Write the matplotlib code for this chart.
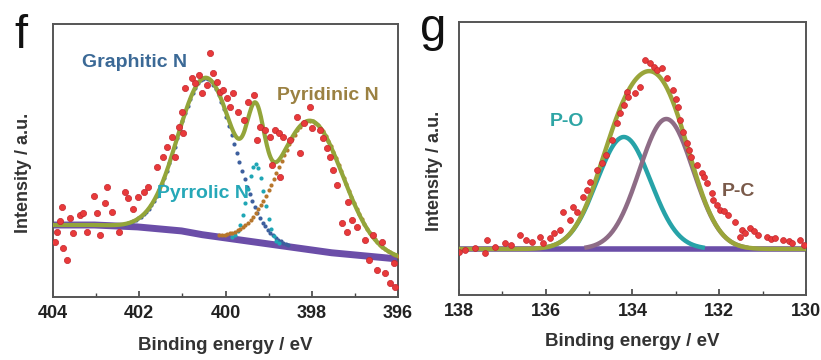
import numpy as np
import matplotlib.pyplot as plt
from matplotlib.ticker import MultipleLocator

plt.rcParams['font.family'] = ['Liberation Sans', 'DejaVu Sans']


# ---- panel f : N 1s ----
f_base_E = [396.0, 396.5, 397.0, 397.5, 398.0, 398.5, 399.0, 399.5, 400.0,
            400.5, 401.0, 401.5, 402.0, 402.5, 403.0, 404.0]
f_base_I = [38, 40, 42, 44, 47, 50, 53, 56, 59, 62, 66, 68, 70, 71, 72, 72]

f_names = ['Graphitic N', 'Pyrrolic N', 'Pyridinic N']
f_center = [400.45, 399.30, 398.02]
f_height = [157, 78, 129]
f_sigma = [0.65, 0.20, 0.74]
f_colors = ['#3d5f9e', '#1fa6b5', '#b7762c']

f_dots_E = [403.95, 403.91, 403.84, 403.80, 403.76, 403.68, 403.61, 403.53, 403.37,
            403.30, 403.22, 403.06, 402.99, 402.91, 402.79, 402.75, 402.64, 402.48,
            402.33, 402.26, 402.15, 402.02, 401.90, 401.79, 401.59, 401.45, 401.36,
            401.25, 401.17, 401.09, 401.01, 400.98, 400.94, 400.78, 400.70, 400.62,
            400.55, 400.43, 400.36, 400.28, 400.20, 400.12, 400.05, 399.97, 399.89,
            399.82, 399.70, 399.58, 399.47, 399.35, 399.27, 399.20, 399.08, 398.97,
            398.93, 398.85, 398.77, 398.74, 398.66, 398.50, 398.35, 398.27, 398.19,
            398.04, 398.00, 397.81, 397.73, 397.65, 397.57, 397.50, 397.42, 397.30,
            397.19, 397.15, 397.07, 396.95, 396.76, 396.68, 396.57, 396.49, 396.37,
            396.30, 396.18, 396.10, 396.06]
f_dots_I = [55, 65, 76, 90, 49, 37, 79, 64, 82,
            84, 65, 101, 84, 62, 94, 110, 85, 65,
            105, 99, 88, 100, 105, 110, 130, 140, 150,
            160, 140, 170, 185, 164, 209, 219, 214, 222,
            204, 212, 244, 224, 215, 205, 207, 199, 190,
            204, 185, 177, 195, 202, 157, 170, 167, 160,
            132, 167, 164, 120, 160, 157, 180, 144, 174,
            190, 169, 167, 159, 149, 140, 127, 112, 74,
            65, 95, 77, 70, 57, 37, 62, 27, 55,
            24, 14, 34, 10]

# ---- panel g : P 2p ----
g_base_E = [130.0, 132.0, 134.0, 136.0, 138.0]
g_base_I = [46, 46, 46, 46, 46]

g_names = ['P-O', 'P-C']
g_center = [134.20, 133.22]
g_height = [112, 130]
g_sigma = [0.62, 0.62]
g_colors = ['#27a3a8', '#8e6c86']

g_dots_E = [138.00, 137.86, 137.63, 137.40, 137.36, 137.17, 136.94, 136.80, 136.59,
            136.45, 136.32, 136.13, 136.06, 135.90, 135.80, 135.67, 135.60, 135.44,
            135.37, 135.29, 135.13, 135.05, 134.98, 134.83, 134.70, 134.60, 134.48,
            134.36, 134.29, 134.20, 134.13, 134.10, 133.94, 133.83, 133.71, 133.60,
            133.50, 133.44, 133.33, 133.21, 133.06, 133.00, 132.94, 132.90, 132.83,
            132.75, 132.70, 132.64, 132.52, 132.40, 132.35, 132.29, 132.17, 132.14,
            132.05, 131.98, 131.90, 131.79, 131.64, 131.52, 131.48, 131.40, 131.29,
            131.20, 131.10, 130.91, 130.80, 130.71, 130.52, 130.40, 130.33, 130.14,
            130.05]
g_dots_I = [43, 45, 47, 42, 55, 48, 52, 50, 60,
            55, 53, 58, 52, 57, 62, 65, 83, 75,
            88, 83, 98, 105, 113, 125, 132, 140, 155,
            172, 182, 190, 203, 198, 202, 208, 235, 232,
            228, 225, 227, 217, 205, 196, 188, 175, 163,
            152, 145, 138, 130, 122, 118, 112, 102, 95,
            90, 85, 84, 80, 73, 58, 65, 62, 67,
            64, 60, 58, 56, 57, 55, 54, 52, 55,
            50]


def gauss(e, c, a, s):
    return a * np.exp(-0.5 * ((e - c) / s) ** 2)


fig = plt.figure(figsize=(8.21, 3.6), dpi=100)
ax_f = fig.add_axes([0.0646, 0.175, 0.4202, 0.7583])
ax_g = fig.add_axes([0.5591, 0.1806, 0.4226, 0.7583])

# panel f
grid = np.arange(396.0, 404.0001, 0.02)
base = np.interp(grid, f_base_E, f_base_I)
total = base.copy()
ax_f.plot(grid, base, color='#6b4ea8', lw=5, zorder=2, solid_capstyle='butt')
for c, a, s, col in zip(f_center, f_height, f_sigma, f_colors):
    comp = gauss(grid, c, a, s)
    total += comp
    m = comp > 2
    ax_f.plot(grid[m][::3], (base + comp)[m][::3], ls='none', marker='o',
              ms=3.0, mew=0, color=col, zorder=3)
ax_f.plot(grid, total, color='#93a53a', lw=3, zorder=4)
ax_f.scatter(f_dots_E, f_dots_I, s=20, color='#e83a3a', edgecolors='#c4262f',
             linewidths=0.5, zorder=5)

ax_f.text(403.33, 235, 'Graphitic N', color='#3b6996', fontsize=14,
          fontweight='bold', va='center', zorder=6)
ax_f.text(401.59, 104, 'Pyrrolic N', color='#26a8b8', fontsize=14,
          fontweight='bold', va='center', zorder=4.5)
ax_f.text(398.80, 202, 'Pyridinic N', color='#9b8142', fontsize=14,
          fontweight='bold', va='center', zorder=6)

# panel g
grid = np.arange(130.0, 138.0001, 0.02)
base = np.interp(grid, g_base_E, g_base_I)
total = base.copy()
ax_g.plot(grid, base, color='#6b4ea8', lw=4, zorder=2)
for c, a, s, col in zip(g_center, g_height, g_sigma, g_colors):
    comp = gauss(grid, c, a, s)
    total += comp
    m = comp > 1.5
    ax_g.plot(grid[m], (base + comp)[m], color=col, lw=3.2, zorder=3)
ax_g.plot(grid, total, color='#9aa53a', lw=3.2, zorder=4)
ax_g.scatter(g_dots_E, g_dots_I, s=18, color='#e83a3a', edgecolors='#c4262f',
             linewidths=0.5, zorder=5)

ax_g.text(135.90, 173, 'P-O', color='#2ea5a5', fontsize=14,
          fontweight='bold', va='center')
ax_g.text(131.94, 103, 'P-C', color='#7a5a4a', fontsize=14,
          fontweight='bold', va='center')

# axes styling
for ax, lim, lab_x, lab_y in [(ax_f, (404, 396), -0.147, -0.062),
                              (ax_g, (138, 130), -0.139, -0.046)]:
    ax.set_xlim(*lim)
    ax.set_ylim(0, 273)
    ax.set_yticks([])
    ax.xaxis.set_major_locator(MultipleLocator(2))
    ax.xaxis.set_minor_locator(MultipleLocator(1))
    ax.tick_params(axis='x', which='major', direction='in', length=4, width=1.2,
                   pad=6, labelsize=13, colors='#444', labelcolor='#222')
    ax.tick_params(axis='x', which='minor', direction='in', length=3, width=1.0,
                   colors='#444')
    ax.tick_params(axis='x', top=False)
    for lbl in ax.get_xticklabels():
        lbl.set_fontweight('bold')
    for sp in ax.spines.values():
        sp.set_color('#555555')
        sp.set_linewidth(1.4)
    ax.set_xlabel('Binding energy / eV', fontsize=13.5, fontweight='bold', color='#333')
    ax.set_ylabel('Intensity / a.u.', fontsize=13, fontweight='bold', color='#333')
    ax.xaxis.set_label_coords(0.5, lab_x)
    ax.yaxis.set_label_coords(lab_y, 0.455)

fig.text(0.018, 0.867, 'f', fontsize=34, va='baseline', color='#111')
fig.text(0.512, 0.885, 'g', fontsize=34, va='baseline', color='#111')

fig.savefig('out.png', dpi=100)
